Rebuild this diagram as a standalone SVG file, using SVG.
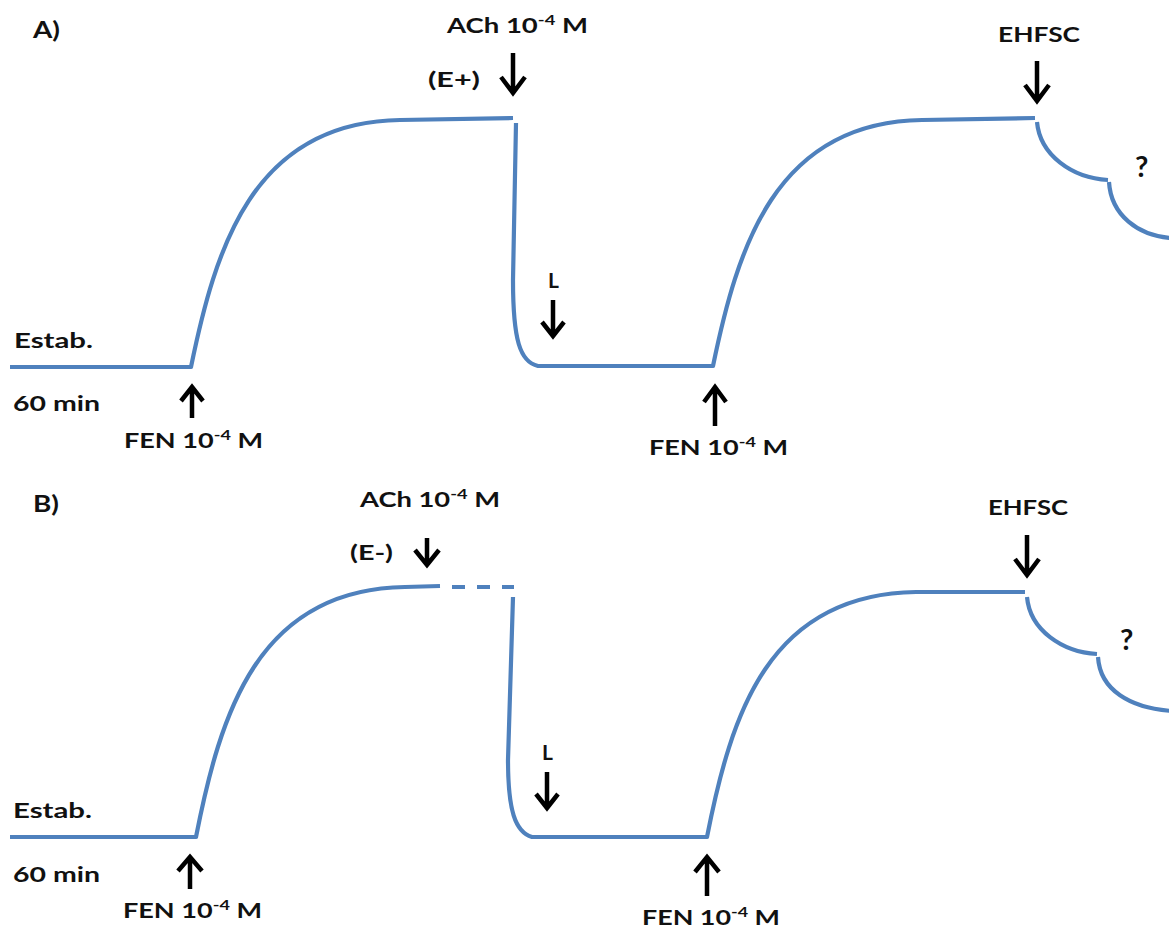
<svg xmlns="http://www.w3.org/2000/svg" width="1169" height="929" viewBox="0 0 1169 929">
<style>
.c{fill:none;stroke:#4f81bd;stroke-width:4.2;stroke-linejoin:round}
.a{fill:none;stroke:#000;stroke-width:4.5;stroke-linejoin:miter}
.t{font-family:Lato,"Open Sans","Liberation Sans",sans-serif;font-weight:bold;font-size:21px;fill:#111}
.s{font-size:14px}
.q{font-size:29px}
.p{font-size:23px}
</style>
<rect width="1169" height="929" fill="#fff"/>

<g id="panelA">
  <text id="labelA" class="t p" x="33" y="38" textLength="27" lengthAdjust="spacingAndGlyphs">A)</text>
  <g id="traceA" class="connectors">
    <path class="c" d="M10,367 L191,367 C215,250 252,122 400,120 L513,118"/>
    <path class="c" d="M516,123 L513,280 C513,340 520,362 538,366 L713,366 C737,250 774,122 922,120 L1035,118"/>
    <path class="c" d="M1037,122 C1040,155 1072,178 1108,180"/>
    <path class="c" d="M1109,182 C1111,215 1138,236 1172,238"/>
  </g>
  <g id="A-ach">
    <text class="t" x="447" y="33" textLength="141" lengthAdjust="spacingAndGlyphs">ACh 10<tspan class="s" dy="-8">-4</tspan><tspan dy="8"> M</tspan></text>
    <text class="t" x="428" y="87" textLength="52" lengthAdjust="spacingAndGlyphs">(E+)</text>
    <path class="a" d="M513,53 L513,93 M501,77 L513,93 L525,77"/>
  </g>
  <g id="A-ehfsc">
    <text class="t" x="998" y="42" textLength="82" lengthAdjust="spacingAndGlyphs">EHFSC</text>
    <path class="a" d="M1037,61 L1037,101 M1025,85 L1037,101 L1049,85"/>
    <text class="t q" x="1135" y="177">?</text>
  </g>
  <g id="A-L">
    <text class="t" x="548" y="288" font-size="20">L</text>
    <path class="a" d="M553,300 L553,336 M542,322 L553,336 L564,322"/>
  </g>
  <g id="A-estab">
    <text class="t" x="14" y="348" textLength="79" lengthAdjust="spacingAndGlyphs">Estab.</text>
    <text class="t" x="13" y="411" textLength="87" lengthAdjust="spacingAndGlyphs">60 min</text>
  </g>
  <g id="A-fen1">
    <path class="a" d="M192,418 L192,388 M181,401 L192,387 L203,401"/>
    <text class="t" x="124" y="448" textLength="139" lengthAdjust="spacingAndGlyphs">FEN 10<tspan class="s" dy="-8">-4</tspan><tspan dy="8"> M</tspan></text>
  </g>
  <g id="A-fen2">
    <path class="a" d="M715,426 L715,388 M704,402 L715,387 L726,402"/>
    <text class="t" x="649" y="455" textLength="139" lengthAdjust="spacingAndGlyphs">FEN 10<tspan class="s" dy="-8">-4</tspan><tspan dy="8"> M</tspan></text>
  </g>
</g>

<g id="panelB">
  <text id="labelB" class="t p" x="33" y="512" textLength="26" lengthAdjust="spacingAndGlyphs">B)</text>
  <g id="traceB" class="connectors">
    <path class="c" d="M10,837 L196,837 C220,715 257,589 405,587 L440,586"/>
    <path class="c" d="M452,587 L465,587 M477,587 L490,587 M502,587 L514,587"/>
    <path class="c" d="M513,597 L508,760 C508,810 515,832 532,837 L707,837 C731,715 768,594 916,592 L1025,592"/>
    <path class="c" d="M1027,597 C1030,630 1062,652 1097,654"/>
    <path class="c" d="M1098,657 C1100,690 1130,708 1172,711"/>
  </g>
  <g id="B-ach">
    <text class="t" x="360" y="507" textLength="140" lengthAdjust="spacingAndGlyphs">ACh 10<tspan class="s" dy="-8">-4</tspan><tspan dy="8"> M</tspan></text>
    <text class="t" x="350" y="560" textLength="43" lengthAdjust="spacingAndGlyphs">(E-)</text>
    <path class="a" d="M427,538 L427,565 M415,550 L427,565 L439,550"/>
  </g>
  <g id="B-ehfsc">
    <text class="t" x="988" y="515" textLength="80" lengthAdjust="spacingAndGlyphs">EHFSC</text>
    <path class="a" d="M1027,535 L1027,575 M1015,559 L1027,575 L1039,559"/>
    <text class="t q" x="1120" y="650">?</text>
  </g>
  <g id="B-L">
    <text class="t" x="542" y="760" font-size="19">L</text>
    <path class="a" d="M547,772 L547,808 M536,794 L547,808 L558,794"/>
  </g>
  <g id="B-estab">
    <text class="t" x="13" y="818" textLength="79" lengthAdjust="spacingAndGlyphs">Estab.</text>
    <text class="t" x="13" y="882" textLength="87" lengthAdjust="spacingAndGlyphs">60 min</text>
  </g>
  <g id="B-fen1">
    <path class="a" d="M190,889 L190,858 M178,871 L190,857 L202,871"/>
    <text class="t" x="123" y="918" textLength="139" lengthAdjust="spacingAndGlyphs">FEN 10<tspan class="s" dy="-8">-4</tspan><tspan dy="8"> M</tspan></text>
  </g>
  <g id="B-fen2">
    <path class="a" d="M707,896 L707,858 M695,872 L707,857 L719,872"/>
    <text class="t" x="642" y="925" textLength="138" lengthAdjust="spacingAndGlyphs">FEN 10<tspan class="s" dy="-8">-4</tspan><tspan dy="8"> M</tspan></text>
  </g>
</g>
</svg>
